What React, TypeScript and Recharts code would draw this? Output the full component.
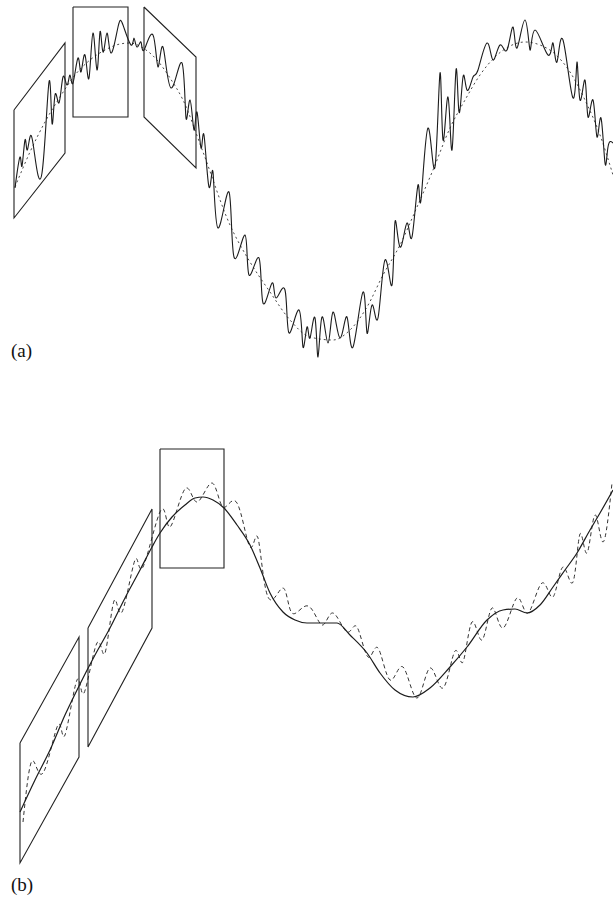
import React from 'react';
import { LineChart, Line, XAxis, YAxis } from 'recharts';

// ---- Panel (a): read-off values (x, y in figure units; y grows downward) ----
const aTrend: number[][] = [
  [15, 187], [30, 152], [45, 122], [60, 97], [75, 75], [90, 60], [105, 50], [120, 44], [130, 43],
  [143, 48], [157, 60], [170, 78], [183, 100], [203, 152], [230, 225], [250, 262], [270, 292],
  [290, 320], [310, 337], [333, 340], [350, 330], [367, 307], [383, 275], [400, 245], [417, 207],
  [433, 170], [450, 128], [465, 100], [480, 75], [495, 57], [510, 46], [525, 42], [540, 45],
  [555, 54], [570, 72], [585, 100], [600, 135], [613, 175],
];

const aSignal: number[][] = [
  [15, 188], [20, 157], [22, 166], [25, 140], [27, 150], [30, 137], [34, 150], [42, 173], [49, 82],
  [52, 123], [55, 95], [59, 103], [63, 77], [67, 85], [70, 75], [73, 83], [78, 58], [81, 72],
  [85, 55], [89, 78], [93, 33], [97, 70], [100, 32], [103, 52], [107, 33], [111, 53], [118, 27],
  [123, 25], [131, 45], [134, 38], [137, 47], [141, 42], [144, 50], [153, 35], [158, 67], [163, 47],
  [171, 88], [182, 63], [186, 118], [190, 100], [194, 130], [197, 112], [201, 148], [204, 135],
  [209, 187], [213, 172], [218, 228], [229, 192], [234, 257], [245, 235], [249, 275], [259, 258],
  [263, 303], [272, 283], [276, 298], [285, 290], [289, 333], [299, 310], [303, 347], [307, 327],
  [310, 338], [315, 318], [318, 357], [322, 317], [328, 343], [333, 312], [340, 338], [347, 317],
  [353, 347], [363, 292], [367, 333], [372, 305], [378, 318], [385, 260], [392, 285], [395, 222],
  [400, 247], [407, 223], [412, 237], [418, 185], [421, 200], [428, 128], [435, 167], [440, 73],
  [443, 140], [448, 97], [452, 150], [456, 70], [459, 112], [463, 77], [467, 90], [473, 77],
  [478, 70], [487, 43], [493, 60], [500, 45], [507, 50], [513, 27], [517, 48], [525, 20],
  [530, 50], [535, 30], [548, 55], [553, 43], [557, 62], [563, 40], [573, 98], [577, 62],
  [580, 100], [585, 80], [588, 117], [593, 100], [597, 137], [601, 118], [605, 163], [608, 147],
  [613, 143],
];

const aBox1: number[][] = [[14, 110], [65, 43], [65, 153], [14, 218], [14, 110]];
const aBox2: number[][] = [[73, 7], [128, 7], [128, 117], [73, 117], [73, 7]];
const aBox3: number[][] = [[144, 7], [196, 57], [196, 168], [144, 117], [144, 7]];

// ---- Panel (b) ----
const bSmooth: number[][] = [
  [20, 812], [35, 780], [50, 750], [65, 715], [79, 686], [95, 655], [110, 628], [125, 598],
  [140, 570], [152, 547], [160, 533], [172, 517], [185, 505], [195, 498], [203, 497], [213, 500],
  [224, 508], [237, 525], [250, 545], [260, 568], [270, 593], [283, 612], [295, 620], [307, 623],
  [320, 623], [337, 623], [350, 635], [367, 653], [380, 673], [395, 690], [413, 697], [430, 688],
  [450, 667], [467, 647], [487, 620], [503, 610], [515, 609], [527, 613], [540, 605], [553, 587],
  [565, 570], [577, 553], [590, 530], [600, 513], [613, 490],
];

const bNoisy: number[][] = [
  [23, 822], [32, 761], [43, 773], [58, 725], [65, 735], [77, 680], [84, 693], [97, 643],
  [105, 653], [114, 601], [122, 612], [135, 560], [143, 567], [161, 510], [170, 527], [185, 489],
  [197, 502], [212, 483], [223, 507], [237, 503], [250, 547], [258, 538], [268, 597], [283, 588],
  [292, 613], [308, 606], [322, 625], [333, 613], [347, 632], [357, 627], [368, 657], [378, 648],
  [390, 680], [403, 667], [417, 698], [430, 668], [443, 688], [455, 651], [463, 662], [472, 622],
  [482, 640], [492, 608], [503, 628], [517, 598], [528, 613], [542, 583], [553, 597], [563, 567],
  [573, 582], [580, 534], [587, 553], [595, 515], [603, 542], [612, 483],
];

const bBox1: number[][] = [[20, 743], [79, 637], [79, 757], [20, 863], [20, 743]];
const bBox2: number[][] = [[88, 628], [152, 509], [152, 628], [88, 747], [88, 628]];
const bBox3: number[][] = [[160, 449], [224, 449], [224, 568], [160, 568], [160, 449]];

const panelLabels = ['(a)', '(b)'];

const toPts = (arr: number[][]) => arr.map(([x, y]) => ({ x, y }));

const W = 613;
const H = 899;

export default function App() {
  const ink = '#1c1c1c';
  const boxProps = {
    type: 'linear' as const,
    stroke: '#222',
    strokeWidth: 1.1,
    dot: false,
    activeDot: false,
    isAnimationActive: false,
    dataKey: 'y',
  };
  const labelStyle: React.CSSProperties = {
    position: 'absolute',
    left: 11,
    fontFamily: '"Liberation Serif", "Times New Roman", serif',
    fontSize: 19,
    lineHeight: '19px',
    color: '#111',
  };
  return (
    <div style={{ position: 'absolute', left: 0, top: 0, width: W, height: H, background: '#fff' }}>
      <LineChart width={W} height={H} margin={{ top: 0, right: 0, bottom: 0, left: 0 }}>
        <XAxis type="number" dataKey="x" domain={[0, W]} hide allowDataOverflow />
        <YAxis type="number" dataKey="y" domain={[0, H]} reversed hide allowDataOverflow />
        {/* Panel (a) */}
        <Line data={toPts(aTrend)} type="monotone" dataKey="y" stroke="#333" strokeWidth={0.9}
          strokeDasharray="2 3" dot={false} activeDot={false} isAnimationActive={false} />
        <Line data={toPts(aSignal)} type="natural" dataKey="y" stroke={ink} strokeWidth={1.1}
          dot={false} activeDot={false} isAnimationActive={false} />
        <Line data={toPts(aBox1)} {...boxProps} />
        <Line data={toPts(aBox2)} {...boxProps} />
        <Line data={toPts(aBox3)} {...boxProps} />
        {/* Panel (b) */}
        <Line data={toPts(bNoisy)} type="natural" dataKey="y" stroke="#333" strokeWidth={1}
          strokeDasharray="4 3" dot={false} activeDot={false} isAnimationActive={false} />
        <Line data={toPts(bSmooth)} type="monotone" dataKey="y" stroke={ink} strokeWidth={1.2}
          dot={false} activeDot={false} isAnimationActive={false} />
        <Line data={toPts(bBox1)} {...boxProps} />
        <Line data={toPts(bBox2)} {...boxProps} />
        <Line data={toPts(bBox3)} {...boxProps} />
      </LineChart>
      <div style={{ ...labelStyle, top: 341 }}>{panelLabels[0]}</div>
      <div style={{ ...labelStyle, top: 875 }}>{panelLabels[1]}</div>
    </div>
  );
}
